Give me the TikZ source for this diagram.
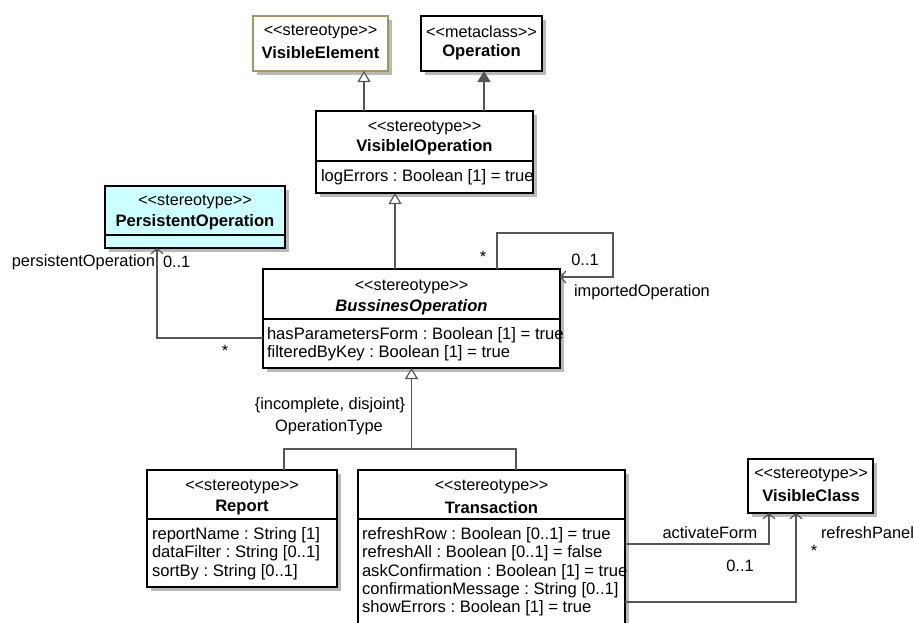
\documentclass[tikz,border=0pt]{standalone}
\usepackage{fontspec}
\setmainfont{Liberation Sans}
\usetikzlibrary{arrows.meta,calc,backgrounds}
\definecolor{olivebd}{RGB}{155,155,95}
\definecolor{persfill}{RGB}{204,255,255}
\definecolor{conn}{RGB}{85,85,85}
\definecolor{shadowc}{RGB}{185,185,185}
\newcommand{\stereo}[1]{\textless\kern0pt\textless\kern0pt #1\kern0pt\textgreater\kern0pt\textgreater}
\frenchspacing
\begin{document}
\begin{tikzpicture}[x=1pt,y=-1pt,
  every node/.style={inner sep=0pt, outer sep=0pt, font=\fontsize{16.6}{18}\selectfont},
  umlbox/.style={draw=black, line width=1.6pt, fill=white, anchor=north west},
  divider/.style={draw=black, line width=1.2pt},
  st/.style={anchor=center, font=\fontsize{16.2}{18}\selectfont},
  nm/.style={anchor=center, font=\fontsize{16.6}{18}\selectfont\bfseries},
  attr/.style={anchor=base west},
  lbl/.style={font=\fontsize{16.4}{18}\selectfont},
  connline/.style={draw=conn, line width=1.3pt},
  gen/.style={connline, -{Triangle[fill=white,length=11pt,width=13pt,line width=1.2pt]}},
  ext/.style={connline, -{Triangle[length=11pt,width=13pt]}},
  nav/.style={connline, -{Straight Barb[length=5pt,width=12pt,line width=1.2pt]}},
  shadowbox/.style={fill=shadowc}
]
\useasboundingbox (0,0) rectangle (914,622);
\clip (0,0) rectangle (914,622);

% boxes
\node[umlbox, draw=olivebd, minimum width=135pt, minimum height=55pt] (ve) at (253,16) {};
\node[umlbox, minimum width=121pt, minimum height=55pt] (op) at (421,16) {};
\node[umlbox, minimum width=217pt, minimum height=82pt] (vio) at (316,111) {};
\node[umlbox, fill=persfill, minimum width=180pt, minimum height=62pt] (po) at (105,186) {};
\node[umlbox, minimum width=297pt, minimum height=99pt] (bo) at (263,269) {};
\node[umlbox, minimum width=190pt, minimum height=117pt] (rep) at (147,470) {};
\node[umlbox, minimum width=267pt, minimum height=170pt] (tr) at (358,470) {};
\node[umlbox, minimum width=125pt, minimum height=54pt] (vc) at (748,459) {};

% background and shadows
\begin{pgfonlayer}{background}
\fill[white] (0,0) rectangle (914,622);
\foreach \b in {ve,op,vio,po,bo,rep,tr,vc}{
  \fill[shadowbox] ([shift={(4pt,-4pt)}]\b.south west) rectangle ([shift={(4pt,-4pt)}]\b.north east);
}
\end{pgfonlayer}

% dividers
\draw[divider] ([yshift=-50pt]vio.north west) -- ([yshift=-50pt]vio.north east);
\draw[divider] ([yshift=-49pt]po.north west) -- ([yshift=-49pt]po.north east);
\draw[divider] ([yshift=-50pt]bo.north west) -- ([yshift=-50pt]bo.north east);
\draw[divider] ([yshift=-49pt]rep.north west) -- ([yshift=-49pt]rep.north east);
\draw[divider] ([yshift=-49pt]tr.north west) -- ([yshift=-49pt]tr.north east);

% box texts
\node[st] (ve-s) at (320.5,31.5) {\stereo{stereotype}};
\node[nm] (ve-n) at (320.5,52.5) {VisibleElement};
\node[st] (op-s) at (481.5,31.5) {\stereo{metaclass}};
\node[nm] (op-n) at (481.5,52.5) {Operation};
\node[st] (vio-s) at (424.5,127.5) {\stereo{stereotype}};
\node[nm] (vio-n) at (424.5,147.5) {VisibleIOperation};
\node[attr] (vio-a1) at (321,181) {logErrors : Boolean [1] = true};
\node[st] (po-s) at (195,201.5) {\stereo{stereotype}};
\node[nm] (po-n) at (195,222.5) {PersistentOperation};
\node[st] (bo-s) at (411.5,286.5) {\stereo{stereotype}};
\node[nm, font=\fontsize{16.6}{18}\selectfont\bfseries\itshape] (bo-n) at (411.5,307.5) {BussinesOperation};
\node[attr] (bo-a1) at (267,339) {hasParametersForm : Boolean [1] = true};
\node[attr] (bo-a2) at (267,357) {filteredByKey : Boolean [1] = true};
\node[st] (rep-s) at (242,486.5) {\stereo{stereotype}};
\node[nm] (rep-n) at (242,507.5) {Report};
\node[attr] (rep-a1) at (152,539.5) {reportName : String [1]};
\node[attr] (rep-a2) at (152,557.5) {dataFilter : String [0..1]};
\node[attr] (rep-a3) at (152,576) {sortBy : String [0..1]};
\node[st] (tr-s) at (491.5,486.5) {\stereo{stereotype}};
\node[nm] (tr-n) at (491.5,507.5) {Transaction};
\node[attr] (tr-a1) at (362,539.5) {refreshRow : Boolean [0..1] = true};
\node[attr] (tr-a2) at (362,557.5) {refreshAll : Boolean [0..1] = false};
\node[attr] (tr-a3) at (362,576) {askConfirmation : Boolean [1] = true};
\node[attr] (tr-a4) at (362,594) {confirmationMessage : String [0..1]};
\node[attr] (tr-a5) at (362,612) {showErrors : Boolean [1] = true};
\node[st] (vc-s) at (811,475) {\stereo{stereotype}};
\node[nm] (vc-n) at (811,496) {VisibleClass};

% connectors
\coordinate (g1) at ([xshift=48pt]vio.north west);
\draw[gen] (g1) -- (g1 |- ve.south);
\coordinate (g2) at ([xshift=-49pt]vio.north east);
\draw[ext] (g2) -- (g2 |- op.south);
\coordinate (g3) at ([xshift=132pt]bo.north west);
\draw[gen] (g3) -- (g3 |- vio.south);
\coordinate (g4) at ([yshift=-69pt]bo.north west);
\coordinate (g5) at ([xshift=52pt]po.south west);
\draw[nav] (g4) -| (g5);
\coordinate (s1) at ([xshift=234pt]bo.north west);
\coordinate (s2) at ([yshift=-8pt]bo.north east);
\coordinate (loopc) at (613,233);
\draw[nav] (s1) |- (loopc) |- (s2);
\coordinate (r1) at ([xshift=137pt]rep.north west);
\coordinate (t1) at ([xshift=158pt]tr.north west);
\coordinate (j) at (411.5,449);
\draw[connline] (r1) |- (j) -| (t1);
\draw[gen] (j) -- (bo.south);
\coordinate (a1) at ([yshift=-74pt]tr.north east);
\coordinate (a2) at ([xshift=21pt]vc.south west);
\draw[nav] (a1) -| (a2);
\coordinate (p1) at ([yshift=-132pt]tr.north east);
\coordinate (p2) at ([xshift=48pt]vc.south west);
\draw[nav] (p1) -| (p2);

% labels
\node[lbl, anchor=east] (l-po) at (155,262) {persistentOperation};
\node[lbl, anchor=west] (l-po-m) at (163,262) {0..1};
\node[lbl] (l-bo-m) at (225,351) {*};
\node[lbl] (l-s-m1) at (483,257) {*};
\node[lbl] (l-s-m2) at (585,260) {0..1};
\node[lbl, anchor=west] (l-imp) at (574,292) {importedOperation};
\node[lbl] (l-inc) at (330,405) {\{incomplete, disjoint\}};
\node[lbl] (l-ot) at (329,427) {OperationType};
\node[lbl] (l-af) at (710,533) {activateForm};
\node[lbl] (l-af-m) at (740,566) {0..1};
\node[lbl, anchor=west] (l-rp) at (821,533) {refreshPanel};
\node[lbl] (l-rp-m) at (814,551) {*};
\end{tikzpicture}
\end{document}
